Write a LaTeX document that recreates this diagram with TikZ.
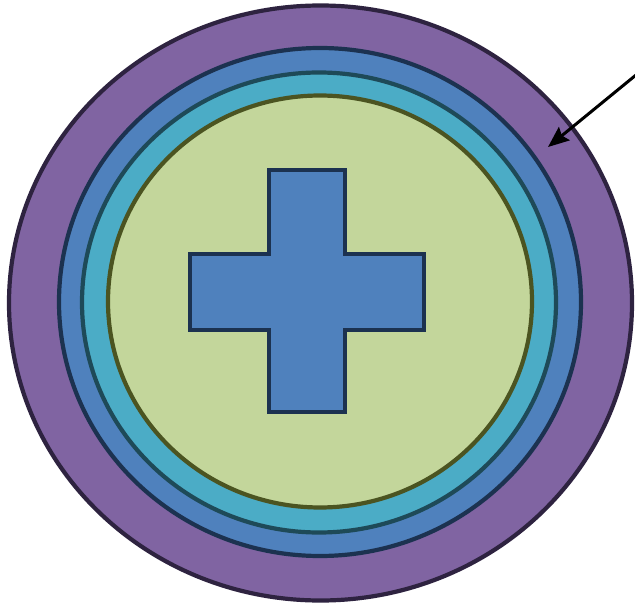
\documentclass[tikz,border=0pt]{standalone}
\usetikzlibrary{arrows.meta}
\definecolor{ringpurple}{HTML}{8064A2}
\definecolor{ringblue}{HTML}{4F81BD}
\definecolor{ringteal}{HTML}{4BACC6}
\definecolor{ringgreen}{HTML}{C3D69B}
\definecolor{edgepurple}{HTML}{2E2340}
\definecolor{edgeblue}{HTML}{1C3250}
\definecolor{edgeteal}{HTML}{1E4A58}
\definecolor{edgegreen}{HTML}{4B5421}
\tikzset{
  ring/.style={line width=4.2pt},
}
\begin{document}
\begin{tikzpicture}[x=1pt,y=-1pt]
\useasboundingbox (0,0) rectangle (635,607);
\fill[white] (0,0) rectangle (635,607);
\draw[ring, fill=ringpurple, draw=edgepurple] (320.5,303) ellipse [x radius=311.5, y radius=297.5];
\draw[ring, fill=ringblue, draw=edgeblue] (320,302) ellipse [x radius=261, y radius=254];
\draw[ring, fill=ringteal, draw=edgeteal] (319,302.5) ellipse [x radius=237, y radius=230];
\draw[ring, fill=ringgreen, draw=edgegreen] (320,301.5) ellipse [x radius=212, y radius=206];
\draw[line width=4.5pt, fill=ringblue, draw=edgeblue, line join=miter]
  (269,170) -- (345,170) -- (345,254) -- (424,254) -- (424,330) -- (345,330)
  -- (345,412) -- (269,412) -- (269,330) -- (190,330) -- (190,254) -- (269,254) -- cycle;
\coordinate (arrowstart) at (636,75);
\coordinate (arrowtip) at (548,147);
\draw[line width=3pt, -{Stealth[length=21pt,width=17pt,inset=3pt]}] (arrowstart) -- (arrowtip);
\end{tikzpicture}
\end{document}
